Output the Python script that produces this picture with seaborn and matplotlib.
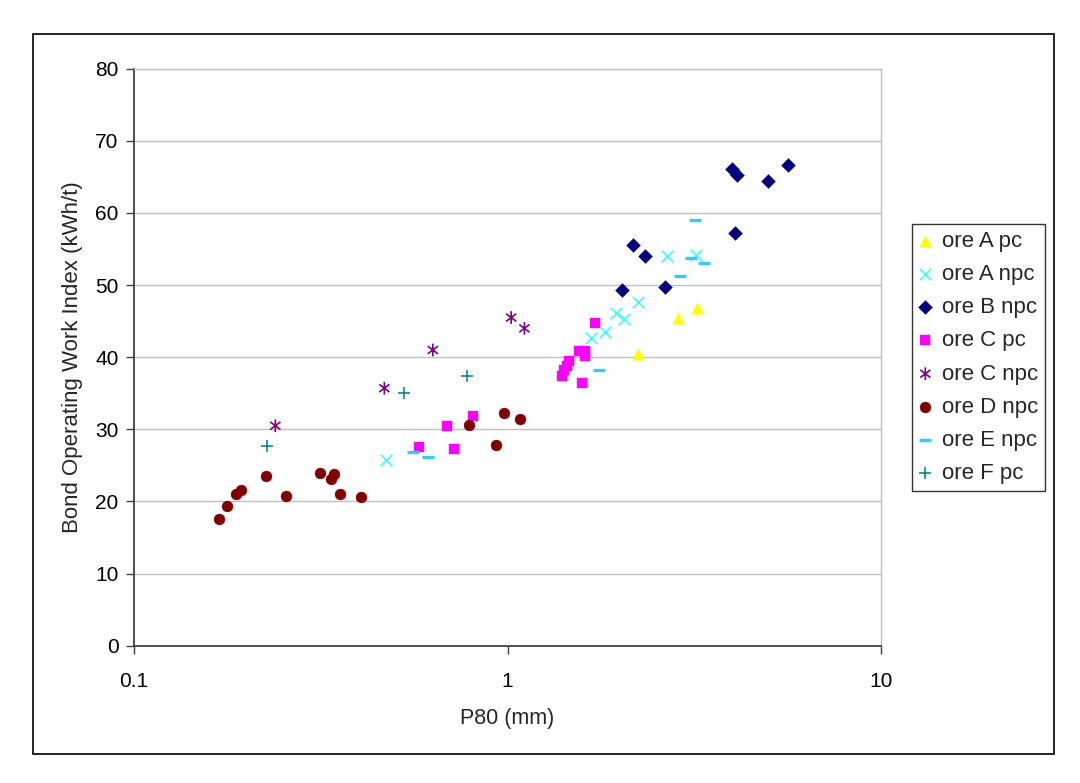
import numpy as np
import pandas as pd
import matplotlib
matplotlib.use('Agg')
import matplotlib.pyplot as plt
import seaborn as sns
from matplotlib.path import Path
from matplotlib.patches import Rectangle

# values
ore_a_pc_x = [2.24, 2.86, 3.21]
ore_a_pc_y = [40.4, 45.5, 46.8]
ore_a_npc_x = [0.473, 1.67, 1.82, 1.95, 2.05, 2.24, 2.67, 3.19]
ore_a_npc_y = [25.8, 42.6, 43.5, 46.1, 45.3, 47.6, 54.1, 54.2]
ore_b_npc_x = [2.02, 2.17, 2.34, 2.64, 3.99, 4.07, 4.11, 4.99, 5.63]
ore_b_npc_y = [49.3, 55.6, 54.1, 49.8, 66.1, 57.2, 65.3, 64.4, 66.7]
ore_c_pc_x = [0.58, 0.69, 0.72, 0.81, 1.40, 1.42, 1.44, 1.46, 1.55, 1.61, 1.61, 1.58, 1.71]
ore_c_pc_y = [27.5, 30.4, 27.3, 31.9, 37.4, 38.2, 38.8, 39.5, 40.8, 40.8, 40.2, 36.4, 44.7]
ore_c_npc_x = [0.239, 0.468, 0.631, 1.023, 1.11]
ore_c_npc_y = [30.5, 35.7, 41.0, 45.5, 44.0]
ore_d_npc_x = [0.169, 0.177, 0.188, 0.193, 0.226, 0.256, 0.314, 0.336, 0.344, 0.355,
               0.405, 0.791, 0.930, 0.977, 1.079]
ore_d_npc_y = [17.6, 19.4, 21.1, 21.6, 23.5, 20.7, 24.0, 23.1, 23.8, 21.1,
               20.6, 30.6, 27.8, 32.2, 31.5]
ore_e_npc_x = [0.558, 0.612, 1.756, 2.888, 3.104, 3.186, 3.348]
ore_e_npc_y = [26.8, 26.2, 38.2, 51.2, 53.8, 59.0, 53.1]
ore_f_pc_x = [0.227, 0.528, 0.780]
ore_f_pc_y = [27.7, 35.0, 37.4]

x_ticks = [0.1, 1, 10]
x_tick_labels = ['0.1', '1', '10']
y_ticks = [0, 10, 20, 30, 40, 50, 60, 70, 80]

# asterisk marker like the Excel star (vertical bar + x)
a = 0.8
star = Path([(0, -1), (0, 1), (-a, -0.6), (a, 0.6), (-a, 0.6), (a, -0.6)],
            [Path.MOVETO, Path.LINETO, Path.MOVETO, Path.LINETO, Path.MOVETO, Path.LINETO])

# label, x, y, marker, colour, size, kind, linewidth
series = [
    ('ore A pc', ore_a_pc_x, ore_a_pc_y, '^', '#FFFF00', 70, 'filled', 0),
    ('ore A npc', ore_a_npc_x, ore_a_npc_y, 'x', '#33FFFF', 70, 'line', 1.1),
    ('ore B npc', ore_b_npc_x, ore_b_npc_y, 'D', '#000080', 50, 'filled', 0),
    ('ore C pc', ore_c_pc_x, ore_c_pc_y, 's', '#FF00FF', 55, 'filled', 0),
    ('ore C npc', ore_c_npc_x, ore_c_npc_y, star, '#800080', 85, 'path', 1.2),
    ('ore D npc', ore_d_npc_x, ore_d_npc_y, 'o', '#800000', 62, 'filled', 0),
    ('ore E npc', ore_e_npc_x, ore_e_npc_y, '_', '#33CCFF', 70, 'line', 2.4),
    ('ore F pc', ore_f_pc_x, ore_f_pc_y, '+', '#008080', 75, 'line', 1.1),
]

sns.set_style('white')
plt.rcParams['font.family'] = ['Liberation Sans', 'DejaVu Sans']

fig = plt.figure(figsize=(10.8, 7.83), dpi=100)
fig.patch.set_facecolor('white')
ax = fig.add_axes([134 / 1080, 1 - 645.7 / 783, (881 - 134) / 1080, (645.7 - 68.7) / 783])

for label, xs, ys, mk, col, size, kind, lw in series:
    df = pd.DataFrame({'P80': xs, 'Wi': ys})
    if kind == 'filled':
        sns.scatterplot(data=df, x='P80', y='Wi', ax=ax, marker=mk, color=col, s=size,
                        edgecolor=col, linewidth=0.3, label=label, zorder=3)
    elif kind == 'path':
        sns.scatterplot(data=df, x='P80', y='Wi', ax=ax, marker=mk, s=size,
                        facecolor='none', edgecolor=col, linewidth=lw,
                        label=label, zorder=3)
    else:
        sns.scatterplot(data=df, x='P80', y='Wi', ax=ax, marker=mk, s=size,
                        color=col, linewidth=lw, label=label, zorder=3)

ax.set_xscale('log')
ax.set_xlim(0.1, 10)
ax.set_ylim(0, 80)
ax.set_xticks(x_ticks)
ax.set_xticklabels(x_tick_labels)
ax.xaxis.set_minor_locator(matplotlib.ticker.NullLocator())
ax.set_yticks(y_ticks)
ax.yaxis.grid(True, color='#c0c0c0', linewidth=1)
ax.xaxis.grid(False)
ax.set_axisbelow(True)

ax.tick_params(axis='both', direction='out', length=6, width=1, color='#404040',
               labelsize=15, labelcolor='black')
ax.tick_params(axis='x', pad=13)
ax.tick_params(axis='y', pad=5)
ax.tick_params(bottom=True, left=True)

for side in ['left', 'bottom']:
    ax.spines[side].set_color('#404040')
    ax.spines[side].set_linewidth(1.3)
for side in ['top', 'right']:
    ax.spines[side].set_color('#c0c0c0')
    ax.spines[side].set_linewidth(1)

ax.set_xlabel('P80 (mm)', fontsize=15.5, labelpad=12)
ax.set_ylabel('Bond Operating Work Index (kWh/t)', fontsize=16, labelpad=9)

leg = ax.legend(loc='upper left', bbox_to_anchor=(912 / 1080, 1 - 224 / 783),
                bbox_transform=fig.transFigure, frameon=True, fancybox=False,
                edgecolor='black', fontsize=16, handlelength=0.6, handletextpad=0.45,
                labelspacing=0.55, borderpad=0.3, borderaxespad=0)
leg.get_frame().set_linewidth(1)

# outer chart border
fig.patches.append(Rectangle((33 / 1080, 1 - 753.5 / 783), 1021 / 1080, 719.5 / 783,
                             transform=fig.transFigure, fill=False,
                             edgecolor='black', linewidth=1.2))

fig.savefig('out.png', dpi=100)
